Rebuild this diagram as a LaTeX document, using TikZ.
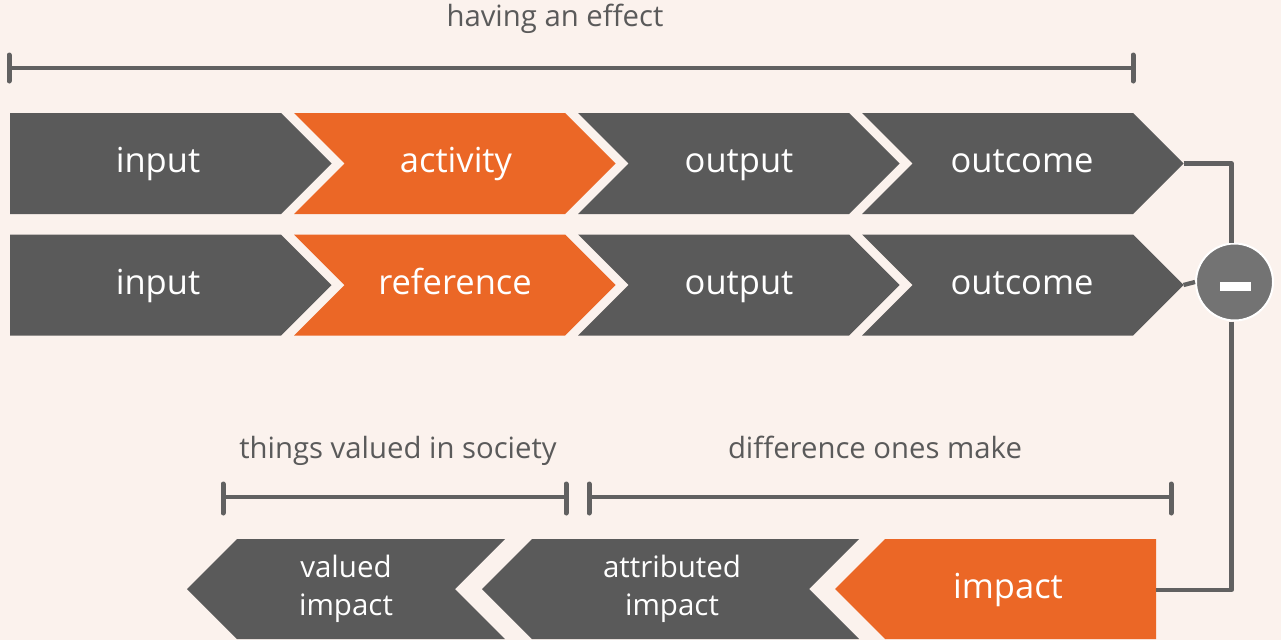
\documentclass[tikz,border=0pt]{standalone}
\usepackage{fontspec}
\setmainfont{Open Sans}
\definecolor{bgcream}{HTML}{FBF2ED}
\definecolor{chevgray}{HTML}{5A5A5A}
\definecolor{chevorange}{HTML}{EB6726}
\definecolor{linegray}{HTML}{616161}
\definecolor{circgray}{HTML}{737373}
\definecolor{labelgray}{HTML}{5A5A5A}
% right-pointing chevron: left x, mid y, notch depth, fill colour
\newcommand\chevRight[4]{%
  \fill[#4] (#1,#2-50.5) -- ++(271,0) -- ++(50.5,50.5) -- ++(-50.5,50.5)
    -- ++(-271,0) -- ++(#3,-50.5) -- cycle;}
% left-pointing chevron: right x, mid y, top width, notch depth, fill colour
\newcommand\chevLeft[5]{%
  \fill[#5] (#1,#2-50) -- ++(-#3,0) -- ++(-50,50) -- ++(50,50)
    -- ++(#3,0) -- ++(-#4,-50) -- cycle;}
\begin{document}
\begin{tikzpicture}[x=1pt,y=-1pt,
  chevtext/.style={text=white,anchor=base,inner sep=0pt,
    font=\fontsize{34.5}{40}\selectfont},
  chevtwo/.style={text=white,anchor=base,inner sep=0pt,align=center,
    font=\fontsize{29.5}{38.4}\selectfont},
  spanlabel/.style={text=labelgray,anchor=base,inner sep=0pt,
    font=\fontsize{29.3}{34}\selectfont},
  bracket/.style={draw=linegray,line width=4.2pt},
  brackettick/.style={draw=linegray,line width=5pt,line cap=round},
  link/.style={draw=linegray,line width=4.3pt,line join=round},
]
% canvas
\fill[bgcream] (0,0) rectangle (1281,640);
\useasboundingbox (0,0) rectangle (1281,640);

% ---- upper row: activity chain
\chevRight{10}{163.5}{0}{chevgray}
\chevRight{294}{163.5}{50.5}{chevorange}
\chevRight{578}{163.5}{50.5}{chevgray}
\chevRight{862}{163.5}{50.5}{chevgray}
\node[chevtext] (in1)  at (158,172.7) {input};
\node[chevtext] (act)  at (456,172.7) {activity};
\node[chevtext] (out1) at (739,172.7) {output};
\node[chevtext] (oc1)  at (1022,172.7) {outcome};
\coordinate (oc1tip) at (1183.5,163.5);

% ---- middle row: reference chain
\chevRight{10}{285}{0}{chevgray}
\chevRight{294}{285}{50.5}{chevorange}
\chevRight{578}{285}{50.5}{chevgray}
\chevRight{862}{285}{50.5}{chevgray}
\node[chevtext] (in2)  at (158,294) {input};
\node[chevtext] (ref)  at (455,294) {reference};
\node[chevtext] (out2) at (739,294) {output};
\node[chevtext] (oc2)  at (1022,294) {outcome};
\coordinate (oc2tip) at (1183.5,285);

% ---- bottom row: impacts, pointing left
\chevLeft{1156}{589}{271}{0}{chevorange}
\chevLeft{859}{589}{327}{50}{chevgray}
\chevLeft{505}{589}{268}{50}{chevgray}
\node[chevtext] (imp) at (1008,598.3) {impact};
% base of a two-line node sits on its last line
\node[chevtwo]  (att) at (672,615.7) {attributed\\impact};
\node[chevtwo]  (val) at (346,615.7) {valued\\impact};
\coordinate (impend) at (1156,590);

% ---- difference operator
\node[circle,fill=circgray,draw=white,line width=2pt,minimum size=77pt,
  inner sep=0pt] (minus) at (1234.5,282) {};
\node[fill=white,minimum width=31pt,minimum height=9pt,inner sep=0pt]
  (minusbar) at (1235.5,286) {};

% ---- connectors
\draw[link] (oc1tip) -| ([xshift=-3pt]minus.north);
\draw[link] (oc2tip) -- (minus.west);
\draw[link] ([xshift=-3pt]minus.south) |- (impend);

% ---- span brackets
\draw[bracket] (9,68) -- (1133,68);
\draw[brackettick] (9,55) -- (9,81);
\draw[brackettick] (1133,55) -- (1133,81);
\node[spanlabel] (eff) at (555,26.7) {having an effect};

\draw[bracket] (223,497) -- (566,497);
\draw[brackettick] (223,484) -- (223,513);
\draw[brackettick] (566,484) -- (566,513);
\node[spanlabel] (soc) at (398,458) {things valued in society};

\draw[bracket] (589,497) -- (1171,497);
\draw[brackettick] (589,484) -- (589,513);
\draw[brackettick] (1171,484) -- (1171,513);
\node[spanlabel] (diff) at (875,458) {difference ones make};
\end{tikzpicture}
\end{document}
